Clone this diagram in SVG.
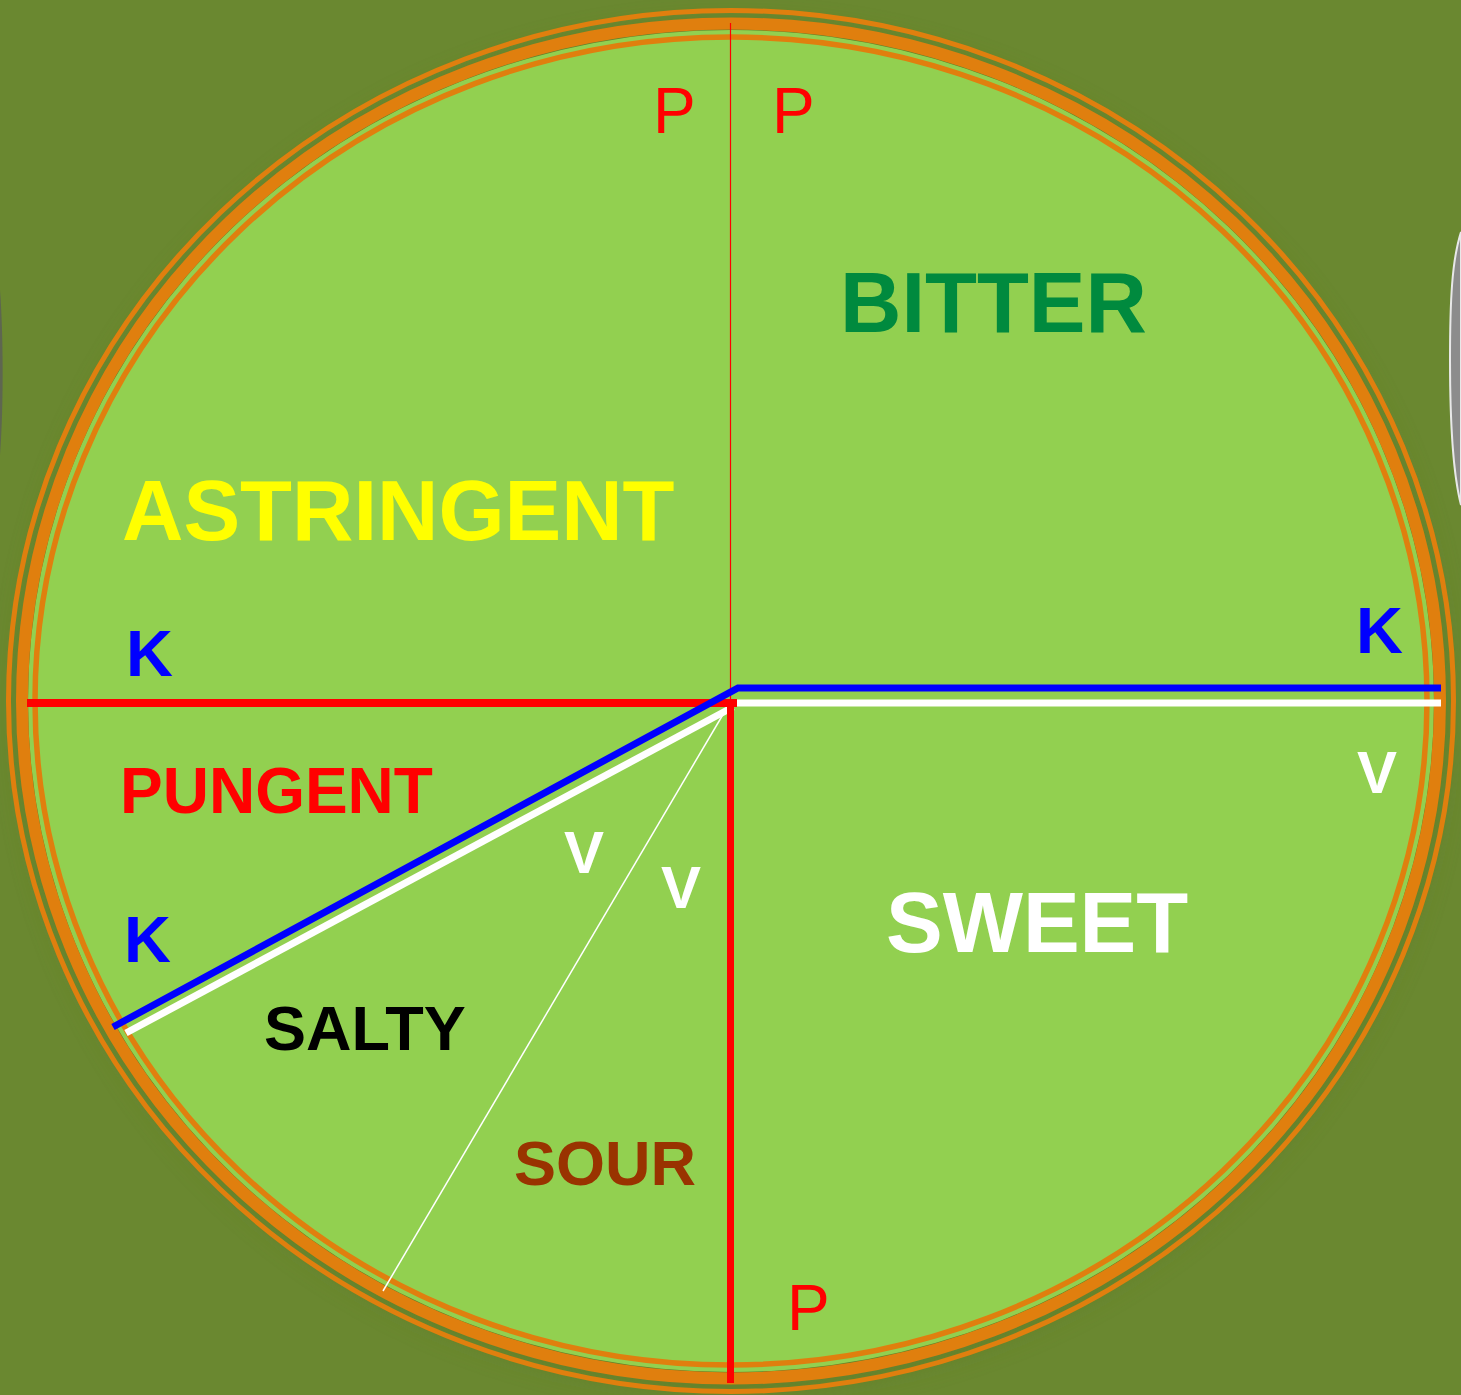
<svg xmlns="http://www.w3.org/2000/svg" width="1461" height="1395" viewBox="0 0 1461 1395">
<style>
.ring{fill:none;stroke:#E07F0E}
.t{font-family:"Liberation Sans",Arial,sans-serif;font-weight:bold}
.p{font-family:"Liberation Sans",Arial,sans-serif;font-size:64px;fill:#FF0000}
.k{fill:#0000FF;font-size:65px}
.v{fill:#FFFFFF;font-size:60px}
</style>
<defs>
<filter id="sh" x="-10%" y="-10%" width="120%" height="120%"><feGaussianBlur stdDeviation="14"/></filter>
</defs>
<rect x="0" y="0" width="1461" height="1395" fill="#6A8830"/>
<g id="edges">
<path d="M1461,232 C1452,260 1450,300 1450,360 C1450,420 1452,470 1461,505 Z" fill="#8C8C8C" stroke="#E8E8E8" stroke-width="2"/>
<path d="M0,290 C3,330 4,400 0,455 Z" fill="#5E6650"/>
</g>
<g id="plate">
<ellipse cx="733" cy="706" rx="712" ry="680" fill="#5B7A25" opacity="0.7" filter="url(#sh)"/>
<ellipse cx="731" cy="701" rx="703" ry="671" fill="#92D050"/>
<ellipse class="ring" cx="731" cy="701" rx="722.5" ry="690.5" stroke-width="5"/>
<ellipse class="ring" cx="731" cy="701" rx="709" ry="677.5" stroke-width="12"/>
<ellipse class="ring" cx="731" cy="701" rx="696" ry="664" stroke-width="5.5"/>
</g>
<g id="connectors">
<line x1="730.5" y1="23" x2="730.5" y2="700" stroke="#FF0000" stroke-width="1.2"/>
<line x1="383" y1="1291" x2="728" y2="706" stroke="#FFFFFF" stroke-width="1.5"/>
<polyline points="1441,703 736,703" fill="none" stroke="#FFFFFF" stroke-width="7"/>
<line x1="733" y1="707" x2="126" y2="1033" stroke="#FFFFFF" stroke-width="7"/>
<line x1="27" y1="703" x2="737" y2="703" stroke="#FF0000" stroke-width="8"/>
<line x1="730.5" y1="699" x2="730.5" y2="1383" stroke="#FF0000" stroke-width="7"/>
<polyline points="1441,688 738,688 113,1027" fill="none" stroke="#0000FF" stroke-width="7"/>
</g>
<g id="labels">
<text class="p" x="653" y="133">P</text>
<text class="p" x="772" y="133">P</text>
<text class="p" x="787" y="1330">P</text>
<text class="t" x="840" y="332" font-size="85" fill="#008A3E">BITTER</text>
<text class="t" x="122" y="540" font-size="85" fill="#FFFF00">ASTRINGENT</text>
<text class="t" x="886" y="952" font-size="85" fill="#FFFFFF">SWEET</text>
<text class="t" x="120" y="813" font-size="64" fill="#FF0000">PUNGENT</text>
<text class="t" x="264" y="1050" font-size="63" fill="#000000">SALTY</text>
<text class="t" x="514" y="1185" font-size="63" fill="#993300">SOUR</text>
<text class="t k" x="126" y="676">K</text>
<text class="t k" x="1356" y="653">K</text>
<text class="t k" x="124" y="962">K</text>
<text class="t v" x="564" y="873">V</text>
<text class="t v" x="661" y="908">V</text>
<text class="t v" x="1357" y="793">V</text>
</g>
</svg>
